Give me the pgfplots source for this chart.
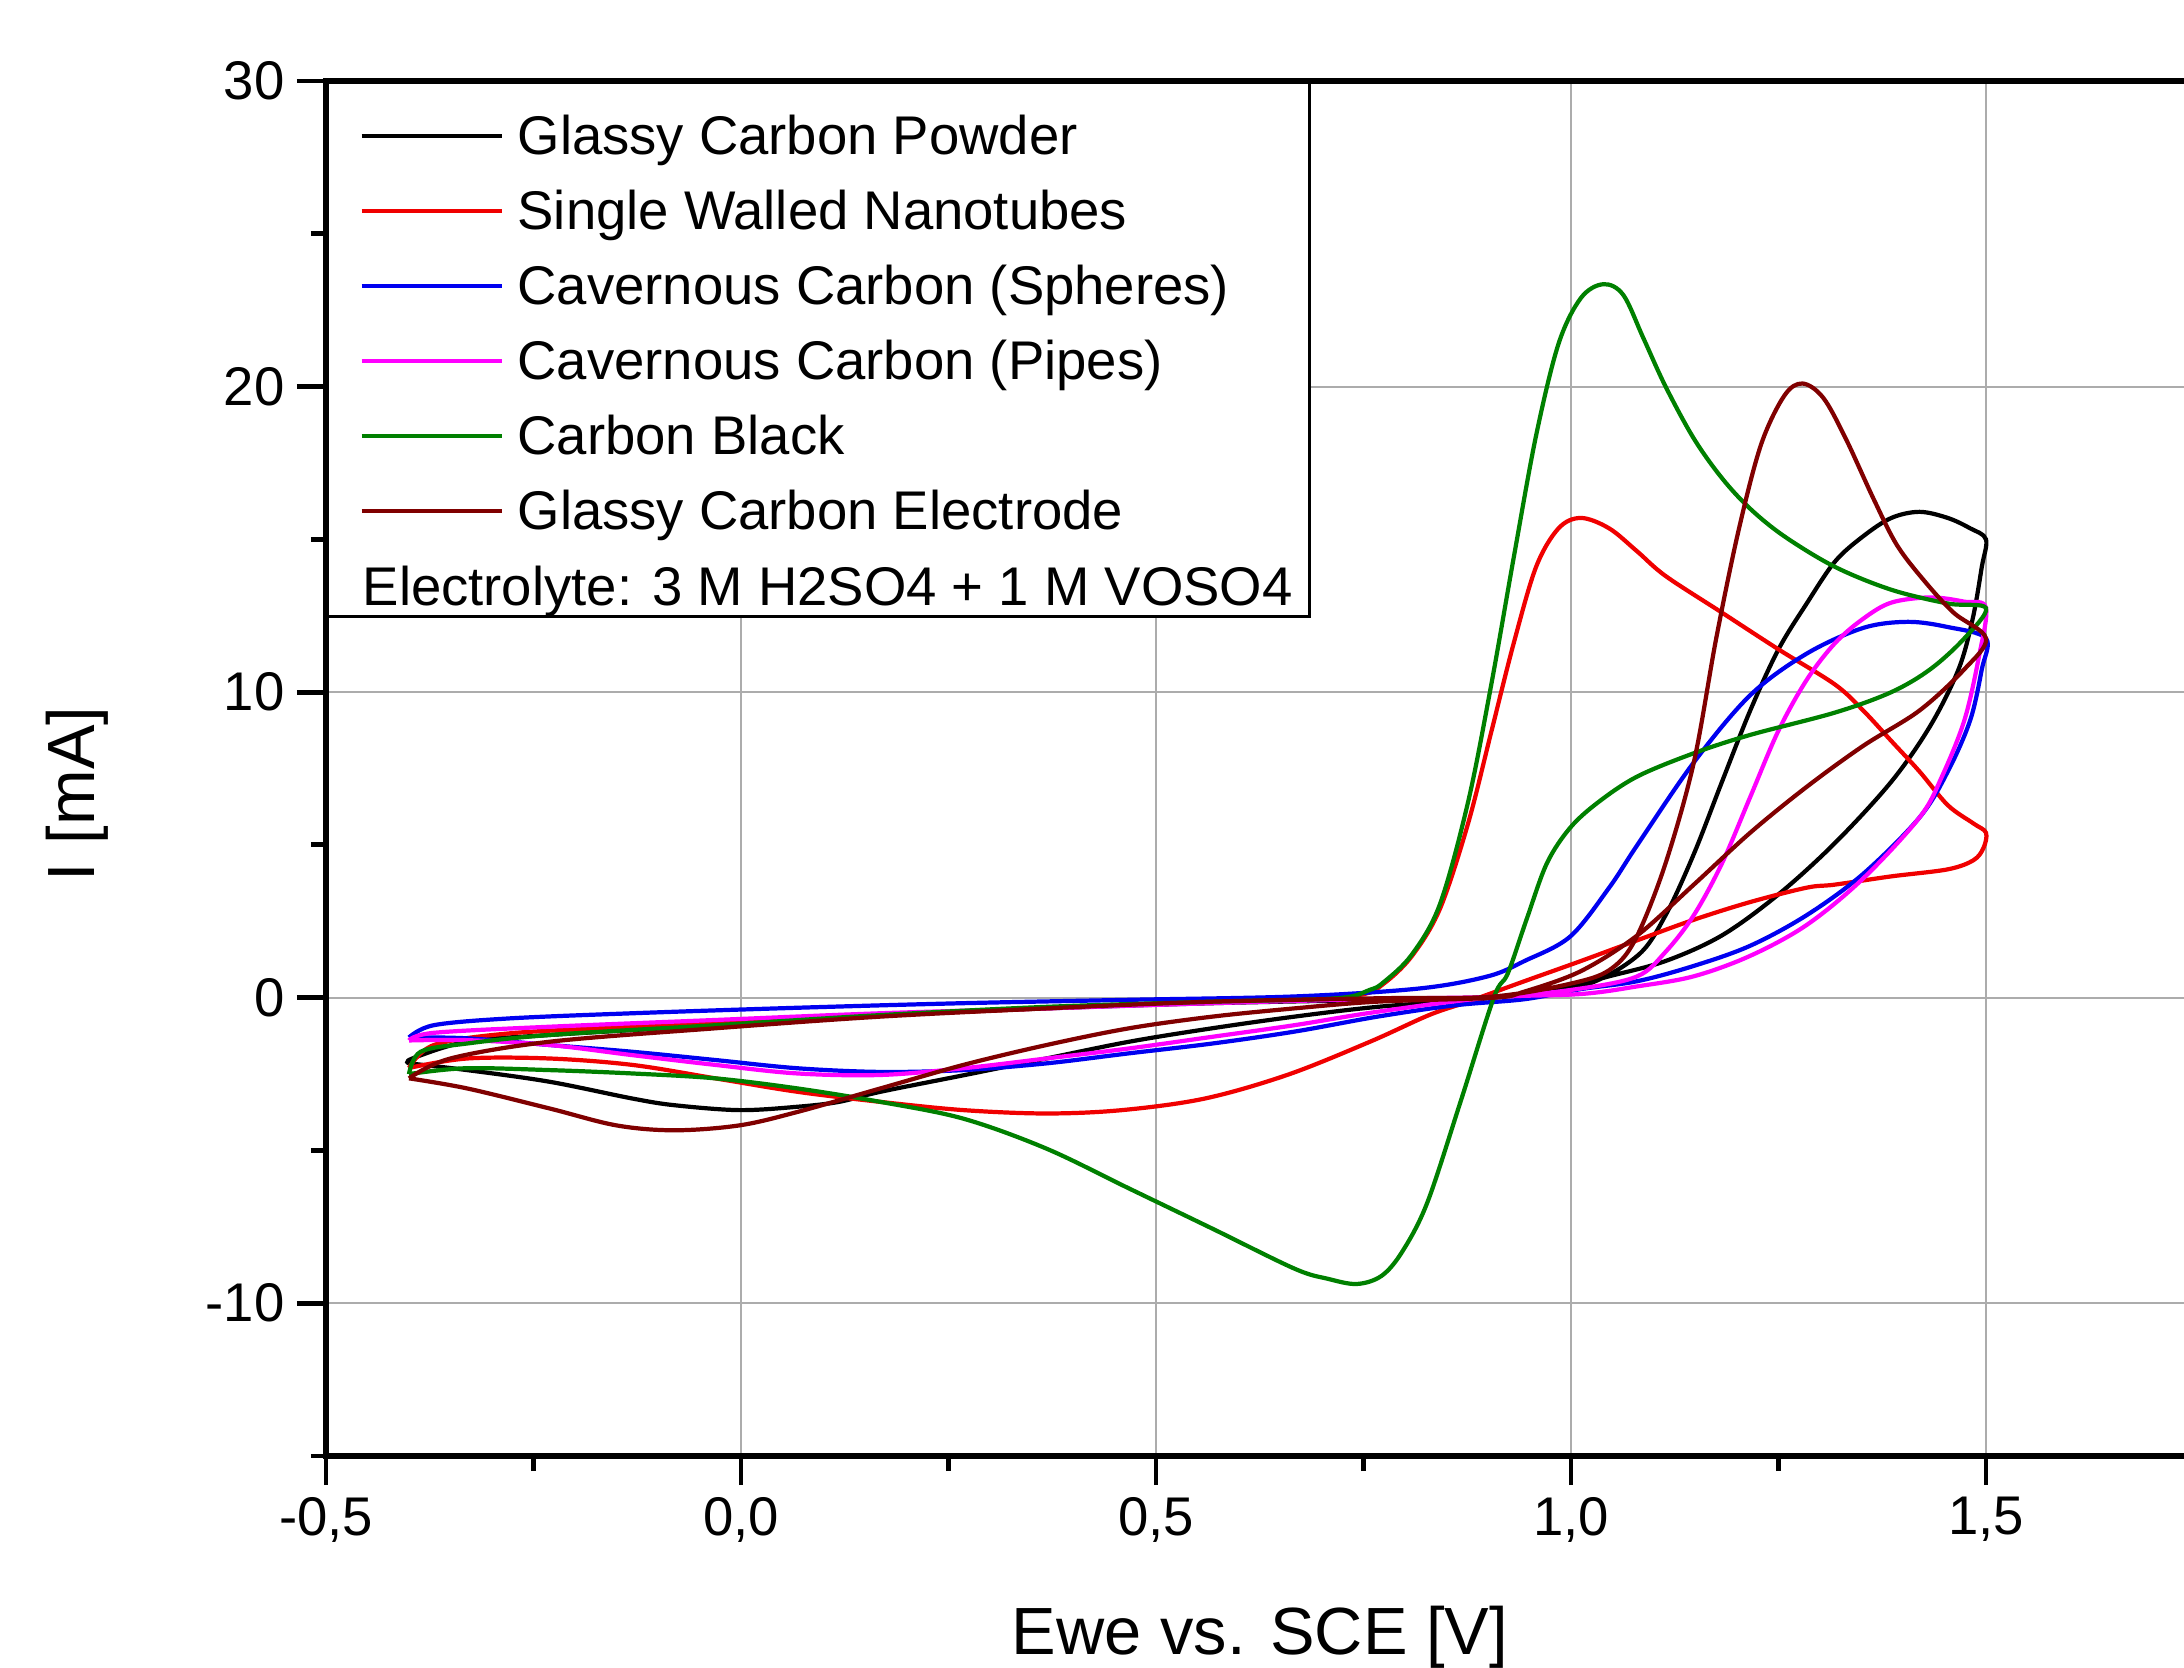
\documentclass[border=0pt]{standalone}
\usepackage{fontspec}
\setmainfont{Liberation Sans}
\usepackage{pgfplots}
\pgfplotsset{compat=1.18}
\definecolor{cvgreen}{RGB}{0,128,0}
\definecolor{cvbrown}{RGB}{128,0,0}
\definecolor{cvmag}{RGB}{255,0,255}
\definecolor{cvred}{RGB}{240,0,0}
\definecolor{cvblue}{RGB}{0,0,240}

\begin{document}
\begin{tikzpicture}
\path[use as bounding box] (-3.26,-2.11) rectangle (18.58,14.56);
\begin{axis}[
  at={(0,0)}, anchor=south west,
  scale only axis, width=18.8cm, height=13.75cm,
  xmin=-0.5, xmax=1.7651, ymin=-15, ymax=30,
  xtick={-0.5,0,0.5,1,1.5}, xticklabels={{-0,5},{0,0},{0,5},{1,0},{1,5}},
  minor xtick={-0.25,0.25,0.75,1.25},
  ytick={-10,0,10,20,30}, yticklabels={-10,0,10,20,30},
  minor ytick={-15,-5,5,15,25},
  xtick pos=bottom, ytick pos=left, tick align=outside,
  major tick length=0.29cm, minor tick length=0.15cm,
  every tick/.style={black, line width=1.4pt},
  axis line style={line width=1.6pt},
  grid=major, major grid style={gray!65, line width=0.6pt},
  tick label style={font=\fontsize{15.5}{18}\selectfont},
  xlabel={Ewe vs. SCE [V]}, ylabel={I [mA]},
  label style={font=\fontsize{19}{22}\selectfont},
  xlabel style={at={(axis description cs:0.4968,-0.1447)}, anchor=base},
  ylabel style={at={(axis description cs:-0.1324,0.4815)}, anchor=center},
  legend style={at={(axis description cs:0.0176,0.9778)}, anchor=north west,
    draw=none, fill=none, inner sep=0pt, row sep=0.2cm, column sep=0.14cm,
    font=\fontsize{15.5}{18}\selectfont,
    nodes={inner sep=0pt, text height=0.42cm, text depth=0.13cm}},
  legend cell align=left,
  legend image code/.code={\draw[#1, line width=1.1pt] (0cm,0.04cm) -- (1.4cm,0.04cm);},
  every axis plot/.append style={line width=1.2pt, smooth, tension=0.55},
]
% Glassy Carbon Powder
\addplot[black] coordinates {
(-0.4,-2.15) (-0.396,-1.99) (-0.33,-1.44) (-0.23,-1.22) (-0.03,-0.9) (0.168,-0.57) (0.368,-0.35)
(0.568,-0.18) (0.767,-0.07) (0.907,0.02) (1.012,0.37) (1.080,1.37) (1.114,2.7) (1.148,4.7)
(1.182,7.07) (1.216,9.4) (1.25,11.4) (1.284,12.9) (1.318,14.27) (1.352,15.1) (1.386,15.7)
(1.420,15.9) (1.454,15.7) (1.481,15.36) (1.5,15.0)
(1.495,14.1) (1.484,12.4) (1.467,10.75) (1.433,8.9) (1.386,7.07) (1.318,5.06) (1.25,3.38)
(1.182,2.04) (1.114,1.2) (1.046,0.7) (0.999,0.37) (0.907,0) (0.767,-0.3) (0.667,-0.62)
(0.568,-1.0) (0.468,-1.44) (0.368,-1.99) (0.268,-2.54) (0.168,-3.08) (0.118,-3.41) (0.068,-3.57)
(-0.002,-3.68) (-0.08,-3.52) (-0.131,-3.3) (-0.231,-2.75) (-0.33,-2.37) (-0.4,-2.15)};
\addlegendentry{Glassy Carbon Powder}
% Single Walled Nanotubes
\addplot[cvred] coordinates {
(-0.4,-2.3) (-0.37,-1.55) (-0.28,-1.17) (-0.131,-0.95) (0.068,-0.68) (0.268,-0.46) (0.468,-0.24)
(0.667,-0.07) (0.747,0.1) (0.774,0.45) (0.808,1.35) (0.842,2.9) (0.876,5.7) (0.904,8.7)
(0.931,11.6) (0.958,14.1) (0.985,15.36) (1.012,15.7) (1.046,15.36) (1.080,14.6) (1.114,13.8)
(1.182,12.6) (1.25,11.4) (1.318,10.25) (1.352,9.4) (1.386,8.4) (1.42,7.4) (1.454,6.3)
(1.485,5.7) (1.5,5.4) (1.497,4.9) (1.485,4.5) (1.454,4.2)
(1.386,3.97) (1.318,3.7) (1.284,3.6) (1.216,3.13) (1.148,2.55) (1.080,1.88) (1.012,1.2)
(0.944,0.54) (0.876,-0.13) (0.829,-0.57) (0.758,-1.44) (0.659,-2.52) (0.559,-3.3) (0.459,-3.68)
(0.368,-3.79) (0.268,-3.68) (0.168,-3.41) (0.068,-3.08) (-0.031,-2.64) (-0.131,-2.2)
(-0.231,-1.99) (-0.33,-1.99) (-0.4,-2.3)};
\addlegendentry{Single Walled Nanotubes}
% Cavernous Carbon (Spheres)
\addplot[cvblue] coordinates {
(-0.4,-1.3) (-0.37,-0.9) (-0.28,-0.68) (-0.131,-0.51) (0.068,-0.33) (0.268,-0.18) (0.468,-0.07)
(0.667,0.04) (0.817,0.3) (0.9,0.7) (0.944,1.2) (0.999,2.0) (1.046,3.6) (1.080,5.0) (1.148,7.7)
(1.216,9.9) (1.284,11.26) (1.352,12.1) (1.406,12.3) (1.454,12.13) (1.5,11.76)
(1.495,10.75) (1.481,9.08) (1.454,7.4) (1.420,5.9) (1.352,4.05) (1.284,2.7) (1.216,1.7)
(1.148,1.04) (1.080,0.54) (1.012,0.28) (0.944,-0.05) (0.86,-0.25) (0.767,-0.62) (0.667,-1.11)
(0.568,-1.5) (0.468,-1.82) (0.368,-2.15) (0.268,-2.37) (0.168,-2.43) (0.068,-2.31)
(-0.031,-2.04) (-0.131,-1.77) (-0.23,-1.55) (-0.33,-1.33) (-0.4,-1.3)};
\addlegendentry{Cavernous Carbon (Spheres)}
% Cavernous Carbon (Pipes)
\addplot[cvmag] coordinates {
(-0.4,-1.4) (-0.37,-1.15) (-0.23,-0.95) (-0.031,-0.73) (0.168,-0.51) (0.368,-0.35) (0.568,-0.18)
(0.767,-0.04) (0.917,0.04) (1.012,0.3) (1.080,0.7) (1.114,1.5) (1.148,2.7) (1.182,4.4)
(1.216,6.57) (1.25,8.74) (1.284,10.4) (1.318,11.6) (1.352,12.4) (1.386,12.93) (1.433,13.1)
(1.474,12.96) (1.5,12.76)
(1.491,11.09) (1.474,9.08) (1.447,7.24) (1.420,5.9) (1.352,3.9) (1.284,2.38) (1.216,1.37)
(1.148,0.7) (1.080,0.37) (1.012,0.12) (0.9,0) (0.767,-0.46) (0.667,-0.9) (0.568,-1.28)
(0.468,-1.66) (0.368,-1.99) (0.268,-2.31) (0.168,-2.53) (0.068,-2.48) (-0.031,-2.2)
(-0.131,-1.88) (-0.23,-1.55) (-0.33,-1.39) (-0.4,-1.4)};
\addlegendentry{Cavernous Carbon (Pipes)}
% Carbon Black
\addplot[cvgreen] coordinates {
(-0.4,-2.5) (-0.386,-1.77) (-0.33,-1.5) (-0.23,-1.22) (-0.03,-0.90) (0.168,-0.57) (0.368,-0.30)
(0.568,-0.13) (0.717,-0.02) (0.757,0.25) (0.774,0.5) (0.808,1.4) (0.842,3.05) (0.876,6.4)
(0.904,10.25) (0.931,14.4) (0.958,18.4) (0.985,21.4) (1.012,22.9) (1.039,23.35) (1.063,23.0)
(1.087,21.6) (1.114,20.0) (1.148,18.3) (1.182,17.0) (1.216,16.0) (1.257,15.1) (1.318,14.1)
(1.386,13.35) (1.454,12.9) (1.5,12.75)
(1.474,11.76) (1.433,10.75) (1.386,10.0) (1.318,9.33) (1.216,8.6) (1.148,8.0) (1.080,7.24)
(1.033,6.4) (0.999,5.56) (0.971,4.4) (0.947,2.6) (0.924,0.8) (0.907,0) (0.867,-3.4)
(0.827,-6.7) (0.797,-8.3) (0.772,-9.1) (0.742,-9.37) (0.707,-9.2) (0.667,-8.87) (0.568,-7.56)
(0.468,-6.25) (0.368,-4.94) (0.268,-3.96) (0.168,-3.41) (0.068,-2.97) (-0.031,-2.64)
(-0.131,-2.48) (-0.231,-2.37) (-0.332,-2.31) (-0.4,-2.5)};
\addlegendentry{Carbon Black}
% Glassy Carbon Electrode
\addplot[cvbrown] coordinates {
(-0.4,-2.64) (-0.35,-1.99) (-0.23,-1.44) (-0.03,-1.0) (0.168,-0.62) (0.368,-0.35) (0.568,-0.13)
(0.767,-0.02) (0.907,0.04) (1.012,0.54) (1.053,1.04) (1.080,2.04) (1.114,4.4) (1.148,7.7)
(1.175,11.76) (1.202,15.3) (1.229,18.1) (1.257,19.7) (1.279,20.1) (1.304,19.63) (1.331,18.3)
(1.365,16.3) (1.393,14.8) (1.427,13.6) (1.461,12.6) (1.5,11.76)
(1.474,10.75) (1.420,9.4) (1.352,8.24) (1.284,6.9) (1.216,5.4) (1.148,3.7) (1.080,2.04)
(1.012,0.87) (0.944,0.2) (0.907,0) (0.767,-0.13) (0.667,-0.35) (0.568,-0.62) (0.468,-1.0)
(0.368,-1.55) (0.268,-2.2) (0.168,-2.97) (0.068,-3.74) (-0.002,-4.18) (-0.08,-4.34)
(-0.15,-4.18) (-0.23,-3.63) (-0.33,-2.97) (-0.4,-2.64)};
\addlegendentry{Glassy Carbon Electrode}
% legend frame and electrolyte note
\fill[white] ([shift={(0.8pt,-0.8pt)}]axis cs:-0.5,30) rectangle (axis cs:0.6846,12.47);
\draw[line width=0.8pt] (axis cs:-0.5,12.47) -- (axis cs:0.6846,12.47) -- (axis cs:0.6846,30);
\node[anchor=base west, inner sep=0pt, font=\fontsize{15.5}{18}\selectfont]
  at (axis cs:-0.4566,12.84) {Electrolyte: 3 M H2SO4 + 1 M VOSO4};
\end{axis}
\end{tikzpicture}
\end{document}
